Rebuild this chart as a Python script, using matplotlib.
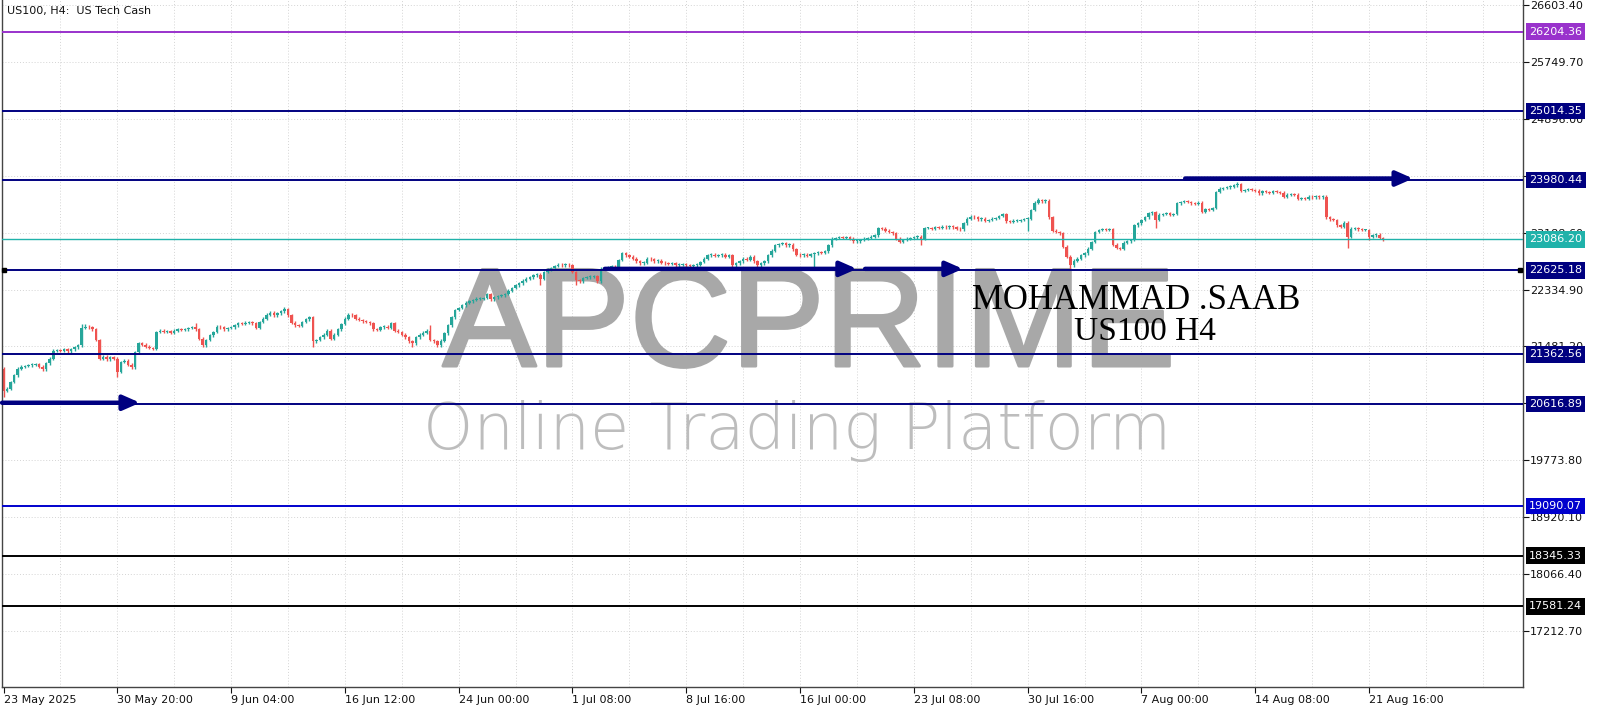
import numpy as np
import matplotlib
matplotlib.use("Agg")
import matplotlib.pyplot as plt
import matplotlib.patheffects as pe
from matplotlib.transforms import blended_transform_factory

# ---------------- data ----------------
open_first = 21150
closes = [
    20820, 20850, 20950, 21050, 21150, 21180, 21190, 21200, 21210, 21220,
    21180, 21140, 21230, 21300, 21420, 21430, 21420, 21440, 21410, 21440,
    21470, 21500, 21760, 21780, 21770, 21740, 21580, 21300, 21330, 21290,
    21320, 21300, 21100, 21250, 21270, 21210, 21170, 21400, 21530, 21510,
    21480, 21460, 21450, 21700, 21720, 21700, 21710, 21690, 21720, 21740,
    21730, 21740, 21760, 21770, 21740, 21600, 21500, 21580, 21650, 21700,
    21780, 21770, 21740, 21760, 21770, 21800, 21830, 21820, 21840, 21850,
    21830, 21760, 21850, 21900, 21960, 21990, 21950, 21980, 22010, 22040,
    21950, 21840, 21800, 21790, 21850, 21890, 21920, 21560, 21580, 21620,
    21660, 21720, 21600, 21660, 21740, 21820, 21900, 21960, 21950, 21900,
    21880, 21860, 21850, 21830, 21740, 21730, 21770, 21780, 21760, 21830,
    21720, 21700, 21660, 21620, 21560, 21530, 21620, 21660, 21690, 21720,
    21580, 21560, 21500, 21570, 21680, 21800, 21920, 22030, 22060, 22100,
    22140, 22160, 22180, 22200, 22200, 22210, 22270, 22190, 22220, 22240,
    22250, 22270, 22320, 22360, 22400, 22430, 22470, 22500, 22520, 22550,
    22560, 22500, 22600, 22640, 22660, 22690, 22710, 22700, 22710, 22700,
    22600, 22480, 22460, 22510, 22520, 22530, 22540, 22460, 22650, 22660,
    22670, 22680, 22670, 22780, 22880, 22850, 22830, 22800, 22760, 22730,
    22740, 22800, 22790, 22760, 22770, 22740, 22730, 22720, 22730, 22700,
    22710, 22720, 22700, 22690, 22700, 22710, 22750, 22800, 22850, 22860,
    22840, 22850, 22860, 22830, 22850, 22700, 22730, 22760, 22800, 22780,
    22830, 22760, 22700, 22730, 22760, 22850, 22920, 23000, 23020, 23030,
    23000, 23010, 22940, 22860, 22850, 22860, 22840, 22870, 22880, 22900,
    22890, 22910, 23000, 23100, 23110, 23120, 23110, 23120, 23100, 23060,
    23060, 23080, 23100, 23110, 23130, 23150, 23260, 23250, 23220, 23200,
    23180, 23100, 23050, 23080, 23100, 23110, 23120, 23130, 23100, 23260,
    23260, 23250, 23270, 23260, 23280, 23270, 23290, 23270, 23250, 23240,
    23330, 23400, 23430, 23420, 23390, 23400, 23370, 23380, 23400, 23410,
    23440, 23470, 23360, 23350, 23370, 23370, 23380, 23390, 23400, 23530,
    23640, 23680, 23660, 23670, 23420, 23220, 23200, 23180, 22980, 22830,
    22700, 22770, 22800, 22850, 22880, 22950, 23050, 23200, 23230, 23240,
    23230, 23240, 23010, 22960, 22950, 23040, 23060, 23080, 23300, 23330,
    23380, 23420, 23480, 23500, 23380, 23460, 23470, 23480, 23460, 23470,
    23630, 23650, 23660, 23650, 23630, 23620, 23640, 23500, 23540, 23530,
    23560, 23800, 23850, 23860, 23870, 23880, 23900, 23920, 23820, 23830,
    23840, 23830, 23820, 23780, 23810, 23800, 23790, 23810, 23800, 23790,
    23730, 23760, 23770, 23760, 23700, 23710, 23700, 23730, 23720, 23740,
    23720, 23730, 23420, 23390, 23380, 23300, 23280, 23340, 23130, 23250,
    23260, 23240, 23230, 23230, 23130, 23150, 23160, 23110, 23086.2,
]
wick_default = 20
wick_up = {0: 30, 22: 60, 23: 40, 54: 60, 79: 30, 120: 80, 136: 20,
           174: 25, 291: 30, 347: 35}
wick_dn = {0: 100, 32: 70, 87: 80, 115: 50, 151: 100, 161: 80, 228: 200,
           258: 100, 288: 170, 300: 60, 324: 120, 378: 175, 384: 50}

tick_bars = [0, 32, 64, 96, 128, 160, 192, 224, 256, 288, 320, 352, 384]
tick_labels = ["23 May 2025", "30 May 20:00", "9 Jun 04:00", "16 Jun 12:00",
               "24 Jun 00:00", "1 Jul 08:00", "8 Jul 16:00", "16 Jul 00:00",
               "23 Jul 08:00", "30 Jul 16:00", "7 Aug 00:00", "14 Aug 08:00",
               "21 Aug 16:00"]
price_ticks = [26603.40, 25749.70, 24896.00, 24042.30, 23188.60, 22334.90,
               21481.20, 20627.50, 19773.80, 18920.10, 18066.40, 17212.70]

level_prices = [26204.36, 25014.35, 23980.44, 23086.20, 22625.18, 21362.56,
                20616.89, 19090.07, 18345.33, 17581.24]
level_colors = ["#9932CC", "#000080", "#000080", "#20B2AA", "#000080",
                "#000080", "#000080", "#0000CD", "#000000", "#000000"]

# arrows: (start bar, end bar, price level)
arrow_start = [-0.4, 169.1, 242.3, 332.3]
arrow_end = [38.4, 240.0, 269.8, 396.4]
arrow_level = [20616.89, 22625.18, 22625.18, 23980.44]

# ---------------- figure ----------------
W, H = 1600, 711
fig = plt.figure(figsize=(W / 100, H / 100), dpi=100)
fig.patch.set_facecolor("white")
ax_left, ax_right, ax_bot = 2, 1523, 687
ax = fig.add_axes([ax_left / W, (H - ax_bot) / H, (ax_right - ax_left) / W, ax_bot / H])

px_per_bar = 3.556
x0_px = 3.5
ax.set_xlim((ax_left - x0_px) / px_per_bar, (ax_right - x0_px) / px_per_bar)
pts_per_px = 15.001
ax.set_ylim(26603.4 - (ax_bot - 5) * pts_per_px, 26603.4 + 5 * pts_per_px)

# grid
for gx in range(16, 430, 16):
    ax.axvline(gx, color="#d4d4d4", lw=0.7, ls=(0, (1, 2)), zorder=0.3)
for gy in price_ticks:
    ax.axhline(gy, color="#d4d4d4", lw=0.7, ls=(0, (1, 2)), zorder=0.3)

# watermark
wm_col = "#a8a8a8"
ax.text(0.5305, 1 - 366 / 687, "APCPRIME", transform=ax.transAxes, ha="center",
        va="baseline", fontsize=101, family="Liberation Sans", fontweight="normal",
        color=wm_col, zorder=0.6,
        path_effects=[pe.withStroke(linewidth=2.2, foreground=wm_col)])
ax.text(0.5227, 1 - 449 / 687, "Online Trading Platform", transform=ax.transAxes,
        ha="center", va="baseline", fontsize=46, family="DejaVu Sans",
        fontweight="light", color="#bdbdbd", zorder=0.6)

# candles
c = np.array(closes, dtype=float)
o = np.concatenate([[open_first], c[:-1]])
idx = np.arange(len(c))
up_w = np.array([wick_up.get(i, wick_default) for i in idx])
dn_w = np.array([wick_dn.get(i, wick_default) for i in idx])
hi = np.maximum(o, c) + up_w
lo = np.minimum(o, c) - dn_w
bull = c >= o
cols = np.where(bull, "#26a69a", "#ef5350")
ax.vlines(idx, lo, hi, colors=cols, lw=1.0, zorder=2)
body = c - o
min_h = 14
body = np.where(np.abs(body) < min_h, np.where(body >= 0, min_h, -min_h), body)
ax.bar(idx, body, bottom=o, width=0.7, color=cols, linewidth=0, zorder=2.1)

# horizontal levels
trans_lbl = blended_transform_factory(ax.transAxes, ax.transData)
for p, col in zip(level_prices, level_colors):
    lw = 1.0 if col == "#20B2AA" else 1.4
    ax.axhline(p, color=col, lw=lw, zorder=3)
    ax.text(1 + 6 / (ax_right - ax_left), p, f"{p:.2f}", transform=trans_lbl,
            ha="left", va="center", fontsize=8, color="white", clip_on=False,
            zorder=6, bbox=dict(boxstyle="square,pad=0.3", fc=col, ec="none"))

# small anchor squares on 22625.18
ax.plot([0.001, 0.998], [22625.18, 22625.18], ls="none", marker="s", ms=3.5,
        color="black", transform=trans_lbl, clip_on=False, zorder=5)

# arrows
for xs, xe, lv in zip(arrow_start, arrow_end, arrow_level):
    ax.annotate("", xy=(xe, lv + 20), xytext=(xs, lv + 20),
                arrowprops=dict(arrowstyle="-|>,head_length=0.5,head_width=0.22",
                                lw=3.2, color="#000080", shrinkA=0, shrinkB=0,
                                mutation_scale=20), zorder=4)

# signature text
ax.text(0.7456, 0.5619, "MOHAMMAD .SAAB", transform=ax.transAxes, ha="center",
        va="center", fontsize=25, family="Liberation Serif", color="black", zorder=5)
ax.text(0.7515, 0.5167, "US100 H4", transform=ax.transAxes, ha="center",
        va="center", fontsize=24, family="Liberation Serif", color="black", zorder=5)

# axes styling
ax.spines["top"].set_visible(False)
for s in ["left", "right", "bottom"]:
    ax.spines[s].set_color("#444444")
    ax.spines[s].set_linewidth(1.0)
ax.yaxis.tick_right()
ax.set_yticks(price_ticks)
ax.set_yticklabels([f"{t:.2f}" for t in price_ticks])
ax.tick_params(axis="y", length=4, width=0.8, pad=1, labelsize=8, colors="#111111")
ax.set_xticks(tick_bars)
ax.set_xticklabels(tick_labels)
ax.tick_params(axis="x", length=4, width=0.8, pad=2, labelsize=8, colors="#111111")
for lbl in ax.get_xticklabels():
    lbl.set_ha("left")

fig.text(7 / W, 1 - 11 / H, "US100, H4:  US Tech Cash", fontsize=8,
         va="center", ha="left", color="#111111")

fig.savefig("out.png", dpi=100, facecolor="white")
